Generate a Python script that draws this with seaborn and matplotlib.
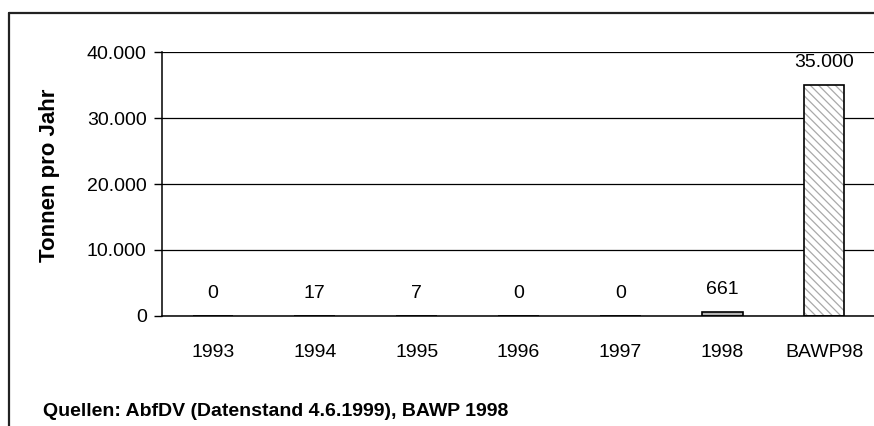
import matplotlib
matplotlib.use("Agg")
import matplotlib.pyplot as plt
import seaborn as sns
import pandas as pd
from matplotlib.ticker import FuncFormatter
from matplotlib.lines import Line2D
from matplotlib.patches import Rectangle

categories = ["1993", "1994", "1995", "1996", "1997", "1998", "BAWP98"]
values = [0, 17, 7, 0, 0, 661, 35000]
yticks = [0, 10000, 20000, 30000, 40000]

sns.set_theme(style="white")
plt.rcParams['font.family'] = ['Liberation Sans', 'DejaVu Sans']
plt.rcParams['hatch.linewidth'] = 0.9

def de_fmt(v, pos=None):
    return f"{int(round(v)):,}".replace(",", ".")

df = pd.DataFrame({"cat": categories, "val": values})

fig = plt.figure(figsize=(8.74, 4.26), dpi=100)
ax = fig.add_axes([162/874, 1-316/426, 713/874, 264/426])

palette = ["#b3b3b3"] * 6 + ["white"]
sns.barplot(data=df, x="cat", y="val", hue="cat", palette=palette, legend=False,
            width=0.4, edgecolor="black", linewidth=1.2, ax=ax, saturation=1)

for i, cont in enumerate(ax.containers):
    if categories[i] == "BAWP98":
        for p in cont:
            p.set_hatch("\\\\\\\\")
            p.set_edgecolor("#a9a9a9")
            p.set_linewidth(0)
            outline = Rectangle(p.get_xy(), p.get_width(), p.get_height(), fill=False,
                                edgecolor="black", linewidth=1.2, zorder=p.get_zorder() + 0.1)
            ax.add_patch(outline)
    ax.bar_label(cont, labels=[de_fmt(values[i])], padding=10, fontsize=14, color="black")

ax.set_xlim(-0.5, 6.5)
ax.set_ylim(0, 40000)
ax.set_yticks(yticks)
ax.yaxis.set_major_formatter(FuncFormatter(de_fmt))
ax.set_xlabel("")
ax.set_ylabel("")
ax.grid(axis="y", color="black", linewidth=0.9)
ax.set_axisbelow(True)
for s in ["top", "right"]:
    ax.spines[s].set_visible(False)
for s in ["left", "bottom"]:
    ax.spines[s].set_color("black")
    ax.spines[s].set_linewidth(1.1)
ax.tick_params(axis="y", which="both", left=True, length=6, width=1, color="black",
               labelsize=14, pad=5, labelcolor="black")
ax.tick_params(axis="x", bottom=False, labelsize=14, pad=14, labelcolor="black")

fig.text(50/874, 1-175/426, "Tonnen pro Jahr", rotation=90, ha="center", va="center",
         fontsize=16, fontweight="bold", color="black")
fig.text(43/874, 1-411/426, "Quellen: AbfDV (Datenstand 4.6.1999), BAWP 1998",
         ha="left", va="center", fontsize=14, fontweight="bold", color="black")

fig.add_artist(Line2D([9/874, 1.0], [1-13/426, 1-13/426], transform=fig.transFigure,
                      color="#222222", linewidth=1.6))
fig.add_artist(Line2D([9/874, 9/874], [1-13/426, 0], transform=fig.transFigure,
                      color="#222222", linewidth=1.6))

fig.savefig("out.png", dpi=100)
